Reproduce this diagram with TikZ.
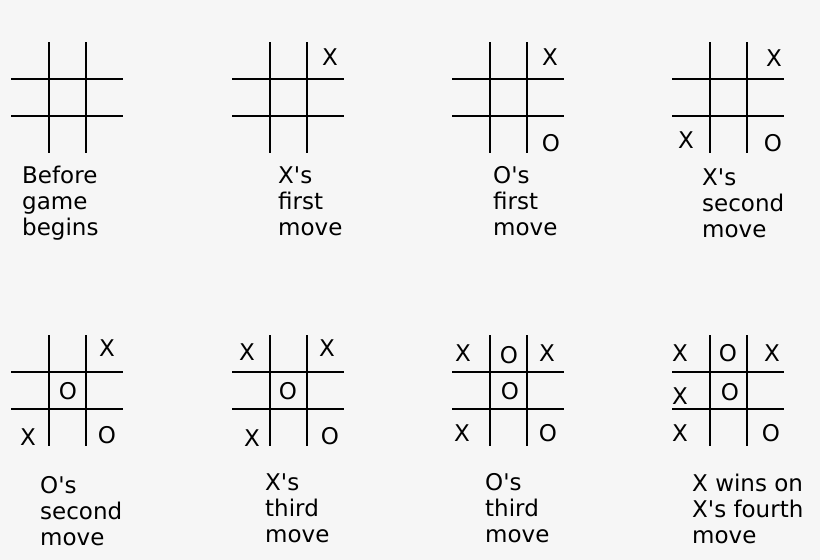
\documentclass[tikz,border=0pt]{standalone}
\usepackage{fontspec}
\newfontfamily\capfont{DejaVu Sans}
\definecolor{bgc}{HTML}{F6F6F6}
\newcommand\tttboard[2]{%
  \draw[gridline] (#1+38,#2) -- (#1+38,#2+111);
  \draw[gridline] (#1+75,#2) -- (#1+75,#2+111);
  \draw[gridline] (#1,#2+37) -- (#1+112,#2+37);
  \draw[gridline] (#1,#2+74) -- (#1+112,#2+74);}
\begin{document}
\begin{tikzpicture}[x=1pt,y=-1pt,
  gridline/.style={line width=2.8pt,black},
  cellmark/.style={inner sep=0pt,anchor=center,font=\capfont\fontsize{23}{26}\selectfont},
  caption/.style={inner sep=0pt,anchor=base west,align=left,font=\capfont\fontsize{23}{26}\selectfont}]
\fill[bgc] (0,0) rectangle (820,560);
\useasboundingbox (0,0) rectangle (820,560);
% row 1 boards
\tttboard{11}{42}
\tttboard{232}{42}
\tttboard{452}{42}
\tttboard{672}{42}
% row 2 boards
\tttboard{11}{335}
\tttboard{232}{335}
\tttboard{452}{335}
\tttboard{672}{335}
% marks row 1
\node[cellmark] (b2x1) at (330,57) {X};
\node[cellmark] (b3x1) at (550,57) {X};
\node[cellmark] (b3o1) at (551,143) {O};
\node[cellmark] (b4x1) at (774,58) {X};
\node[cellmark] (b4x2) at (686,140) {X};
\node[cellmark] (b4o1) at (773,143) {O};
% marks row 2
\node[cellmark] (b5x1) at (107,348) {X};
\node[cellmark] (b5o1) at (68,391) {O};
\node[cellmark] (b5x2) at (28,437) {X};
\node[cellmark] (b5o2) at (107,435) {O};
\node[cellmark] (b6x1) at (247,352) {X};
\node[cellmark] (b6x2) at (327,348) {X};
\node[cellmark] (b6o1) at (288,391) {O};
\node[cellmark] (b6x3) at (252,438) {X};
\node[cellmark] (b6o2) at (330,436) {O};
\node[cellmark] (b7x1) at (463,353) {X};
\node[cellmark] (b7o1) at (509,355) {O};
\node[cellmark] (b7x2) at (547,353) {X};
\node[cellmark] (b7o2) at (510,391) {O};
\node[cellmark] (b7x3) at (462,433) {X};
\node[cellmark] (b7o3) at (548,433) {O};
\node[cellmark] (b8x1) at (680,353) {X};
\node[cellmark] (b8o1) at (728,353) {O};
\node[cellmark] (b8x2) at (772,353) {X};
\node[cellmark] (b8x3) at (680,396) {X};
\node[cellmark] (b8o2) at (730,392) {O};
\node[cellmark] (b8x4) at (680,433) {X};
\node[cellmark] (b8o3) at (771,433) {O};
% captions (anchor = baseline of last line)
\node[caption] (c1) at (22,235) {Before\\game\\begins};
\node[caption] (c2) at (278,235) {X's\\first\\move};
\node[caption] (c3) at (493,235) {O's\\first\\move};
\node[caption] (c4) at (702,237) {X's\\second\\move};
\node[caption] (c5) at (40,545) {O's\\second\\move};
\node[caption] (c6) at (265,542) {X's\\third\\move};
\node[caption] (c7) at (485,542) {O's\\third\\move};
\node[caption] (c8) at (692,543) {X wins on\\X's fourth\\move};
\end{tikzpicture}
\end{document}
